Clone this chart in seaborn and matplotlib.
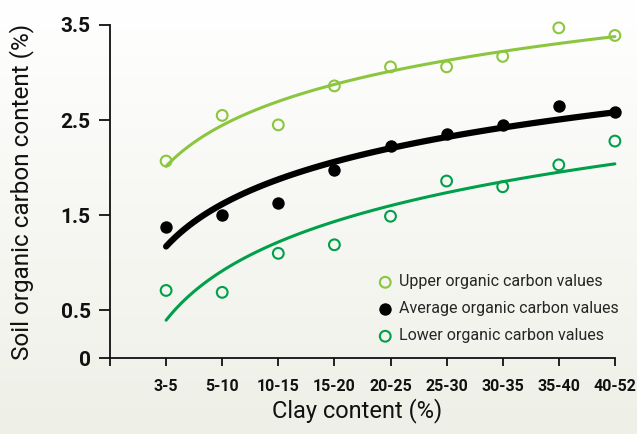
import numpy as np
import pandas as pd
import matplotlib
matplotlib.use('Agg')
import matplotlib.pyplot as plt
import seaborn as sns

# Dados
categorias = ['3-5', '5-10', '10-15', '15-20', '20-25', '25-30', '30-35', '35-40', '40-52']
upper = [2.07, 2.55, 2.45, 2.86, 3.06, 3.06, 3.17, 3.47, 3.39]
average = [1.38, 1.505, 1.63, 1.98, 2.23, 2.35, 2.45, 2.65, 2.59]
lower = [0.71, 0.69, 1.10, 1.19, 1.49, 1.86, 1.80, 2.03, 2.28]

y_ticks = [0, 0.5, 1.5, 2.5, 3.5]
y_ticklabels = ['0', '0.5', '1.5', '2.5', '3.5']

df = pd.DataFrame({
    'pos': np.arange(1, len(categorias) + 1),
    'upper': upper,
    'average': average,
    'lower': lower,
})

sns.set_style('ticks')
plt.rcParams['font.family'] = ['Roboto', 'DejaVu Sans']

fig = plt.figure(figsize=(6.37, 4.34), dpi=100)

# fundo em degradê
bg = fig.add_axes([0, 0, 1, 1], zorder=-10)
grad = np.linspace(0, 1, 256).reshape(-1, 1)
top = np.array([1.0, 1.0, 1.0])
bottom = np.array([0xee, 0xf0, 0xe7]) / 255
img = top + (bottom - top) * grad[:, :, None]
bg.imshow(img, aspect='auto', extent=[0, 1, 0, 1])
bg.axis('off')

ax = fig.add_axes([110 / 637, 76 / 434, 9.3 * 56.1 / 637, 333 / 434])
ax.patch.set_alpha(0)

light_green = '#8cc63f'
dark_green = '#00a04a'

sns.regplot(data=df, x='pos', y='upper', logx=True, ci=None, ax=ax,
            label='Upper organic carbon values',
            scatter_kws=dict(facecolors='none', edgecolors=light_green, s=60,
                             linewidths=1.5, alpha=1, clip_on=False, zorder=3),
            line_kws=dict(color=light_green, lw=2.2, zorder=2))
sns.regplot(data=df, x='pos', y='average', logx=True, ci=None, ax=ax,
            label='Average organic carbon values', color='black',
            scatter_kws=dict(s=80, alpha=1, clip_on=False, zorder=3, linewidths=0),
            line_kws=dict(color='black', lw=4.5, zorder=2))
sns.regplot(data=df, x='pos', y='lower', logx=True, ci=None, ax=ax,
            label='Lower organic carbon values',
            scatter_kws=dict(facecolors='none', edgecolors=dark_green, s=60,
                             linewidths=1.5, alpha=1, clip_on=False, zorder=3),
            line_kws=dict(color=dark_green, lw=2.2, zorder=2))

ax.set_xlim(0, 9.3)
ax.set_ylim(0, 3.5)
ax.set_xticks(np.arange(0, len(categorias) + 1))
ax.set_xticklabels([''] + categorias)
ax.set_yticks(y_ticks)
ax.set_yticklabels(y_ticklabels)

sns.despine(ax=ax)
ax.spines['bottom'].set_bounds(0, 9)
for s in ['left', 'bottom']:
    ax.spines[s].set_linewidth(1.3)
    ax.spines[s].set_color('#111111')

ax.tick_params(axis='y', length=8, width=1.3, pad=6, labelsize=15, colors='#111111')
ax.tick_params(axis='x', length=6, width=1.3, pad=9, labelsize=11.5, colors='#111111')
for lab in ax.get_xticklabels() + ax.get_yticklabels():
    lab.set_fontweight('bold')

ax.set_xlabel('Clay content (%)', fontsize=17, color='#111111')
ax.set_ylabel('Soil organic carbon content (%)', fontsize=17.5, color='#111111')
ax.xaxis.set_label_coords(4.4 / 9.3, -0.12)
ax.yaxis.set_label_coords(-0.145, 0.5)

leg = ax.legend(loc='upper left', bbox_to_anchor=(0.5, 0.27), frameon=False,
                fontsize=11.5, handletextpad=0.35, labelspacing=0.75,
                handlelength=1.0, borderaxespad=0)

fig.savefig('out.png', dpi=100)
